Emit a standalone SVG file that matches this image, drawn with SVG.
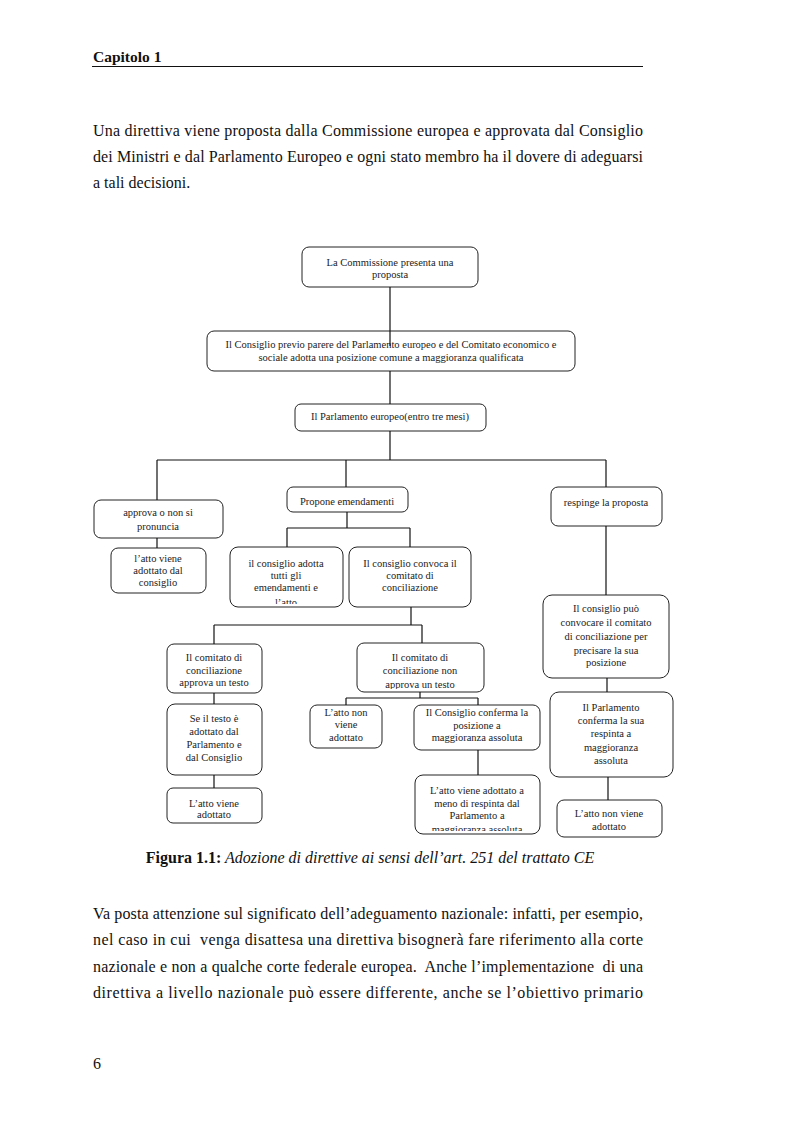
<svg xmlns="http://www.w3.org/2000/svg" width="793" height="1123" viewBox="0 0 793 1123">
<style>
.pg{font-family:"Liberation Serif","Times New Roman",serif;fill:#111}
.body{font-size:16px}
.bx{fill:#fff;stroke:#222;stroke-width:1}
.t{font-family:"Liberation Serif","Times New Roman",serif;font-size:10.5px;fill:#222;text-anchor:middle}
.c{stroke:#111;stroke-width:1.2;fill:none}
</style>
<defs>
<clipPath id="cl8"><rect x="230" y="547" width="113" height="57"/></clipPath>
<clipPath id="cl14"><rect x="357" y="643" width="127" height="46"/></clipPath>
<clipPath id="cl17"><rect x="415" y="775" width="125" height="56"/></clipPath>
</defs>
<rect width="793" height="1123" fill="#fff"/>

<g id="header">
<text class="pg" x="93" y="62" font-size="15.5" font-weight="bold">Capitolo 1</text>
<line x1="92" y1="66.5" x2="643" y2="66.5" stroke="#111" stroke-width="1"/>
</g>

<g id="intro" class="pg body">
<text x="93" y="136" textLength="550" lengthAdjust="spacing">Una direttiva viene proposta dalla Commissione europea e approvata dal Consiglio</text>
<text x="93" y="162" textLength="550" lengthAdjust="spacing">dei Ministri e dal Parlamento Europeo e ogni stato membro ha il dovere di adeguarsi</text>
<text x="93" y="188">a tali decisioni.</text>
</g>

<g id="n1"><rect class="bx" x="302" y="247" width="176" height="40" rx="7"/>
<text class="t" x="390" y="265.5">La Commissione presenta una</text><text class="t" x="390" y="277.5">proposta</text></g>

<g id="n2"><rect class="bx" x="207" y="331" width="368" height="40" rx="7"/>
<text class="t" x="391" y="347.5">Il Consiglio previo parere del Parlamento europeo e del Comitato economico e</text>
<text class="t" x="391" y="360.5">sociale adotta una posizione comune a maggioranza qualificata</text></g>

<g id="n3"><rect class="bx" x="295" y="404" width="191" height="27" rx="6"/>
<text class="t" x="390" y="419.5">Il Parlamento europeo(entro tre mesi)</text></g>

<g id="n4"><rect class="bx" x="94" y="500" width="129" height="38" rx="7"/>
<text class="t" x="158" y="516">approva o non si</text><text class="t" x="158" y="530">pronuncia</text></g>

<g id="n5"><rect class="bx" x="111" y="548" width="95" height="45" rx="7"/>
<text class="t" x="158" y="562">l’atto viene</text><text class="t" x="158" y="574">adottato dal</text><text class="t" x="158" y="586">consiglio</text></g>

<g id="n6"><rect class="bx" x="287" y="487" width="121" height="25" rx="6"/>
<text class="t" x="347" y="505">Propone emendamenti</text></g>

<g id="n7"><rect class="bx" x="551" y="487" width="111" height="39" rx="7"/>
<text class="t" x="606" y="505.5">respinge la proposta</text></g>

<g id="n8"><rect class="bx" x="230" y="547" width="113" height="60" rx="8"/>
<g clip-path="url(#cl8)">
<text class="t" x="286" y="566.5">il consiglio adotta</text><text class="t" x="286" y="578.5">tutti gli</text><text class="t" x="286" y="590.5">emendamenti e</text><text class="t" x="286" y="606">l’atto</text></g></g>

<g id="n9"><rect class="bx" x="349" y="547" width="122" height="60" rx="8"/>
<text class="t" x="410" y="566.5">Il consiglio convoca il</text><text class="t" x="410" y="578.5">comitato di</text><text class="t" x="410" y="590.5">conciliazione</text></g>

<g id="n10"><rect class="bx" x="543" y="595" width="126" height="83" rx="9"/>
<text class="t" x="606" y="612">Il consiglio può</text><text class="t" x="606" y="626">convocare il comitato</text><text class="t" x="606" y="640">di conciliazione per</text><text class="t" x="606" y="653.5">precisare la sua</text><text class="t" x="606" y="666">posizione</text></g>

<g id="n11"><rect class="bx" x="167" y="644" width="95" height="49" rx="7"/>
<text class="t" x="214" y="660.5">Il comitato di</text><text class="t" x="214" y="673.5">conciliazione</text><text class="t" x="214" y="686">approva un testo</text></g>

<g id="n12"><rect class="bx" x="167" y="704" width="95" height="71" rx="8"/>
<text class="t" x="214" y="722">Se il testo è</text><text class="t" x="214" y="735">adottato dal</text><text class="t" x="214" y="748">Parlamento e</text><text class="t" x="214" y="761">dal Consiglio</text></g>

<g id="n13"><rect class="bx" x="167" y="788" width="95" height="35" rx="6"/>
<text class="t" x="214" y="806.5">L’atto viene</text><text class="t" x="214" y="818">adottato</text></g>

<g id="n14"><rect class="bx" x="357" y="643" width="127" height="49" rx="7"/>
<g clip-path="url(#cl14)">
<text class="t" x="420" y="660.5">Il comitato di</text><text class="t" x="420" y="673.5">conciliazione non</text><text class="t" x="420" y="688">approva un testo</text></g></g>

<g id="n15"><rect class="bx" x="310" y="705" width="72" height="43" rx="7"/>
<text class="t" x="346" y="716">L’atto non</text><text class="t" x="346" y="728">viene</text><text class="t" x="346" y="741">adottato</text></g>

<g id="n16"><rect class="bx" x="414" y="705" width="126" height="45" rx="7"/>
<text class="t" x="477" y="716">Il Consiglio conferma la</text><text class="t" x="477" y="729">posizione a</text><text class="t" x="477" y="741">maggioranza assoluta</text></g>

<g id="n17"><rect class="bx" x="415" y="775" width="125" height="59" rx="8"/>
<g clip-path="url(#cl17)">
<text class="t" x="477" y="793.5">L’atto viene adottato a</text><text class="t" x="477" y="806.5">meno di respinta dal</text><text class="t" x="477" y="818.5">Parlamento a</text><text class="t" x="477" y="833">maggioranza assoluta</text></g></g>

<g id="n18"><rect class="bx" x="550" y="692" width="123" height="85" rx="9"/>
<text class="t" x="611" y="710.5">Il Parlamento</text><text class="t" x="611" y="724">conferma la sua</text><text class="t" x="611" y="737">respinta a</text><text class="t" x="611" y="750.5">maggioranza</text><text class="t" x="611" y="763.5">assoluta</text></g>

<g id="n19"><rect class="bx" x="557" y="800" width="105" height="37" rx="7"/>
<text class="t" x="609" y="816.5">L’atto non viene</text><text class="t" x="609" y="829.5">adottato</text></g>

<g id="connectors" class="c">
<path d="M390 287V346"/>
<path d="M390 371V404"/>
<path d="M390 431V460"/>
<path d="M157 460H606"/>
<path d="M157 460V500"/>
<path d="M346 460V487"/>
<path d="M606 460V487"/>
<path d="M157 538V548"/>
<path d="M347 512V528"/>
<path d="M287 528H410"/>
<path d="M287 528V547"/>
<path d="M410 528V547"/>
<path d="M411 607V625"/>
<path d="M214 625H422"/>
<path d="M214 625V644"/>
<path d="M422 625V643"/>
<path d="M420 692V698"/>
<path d="M346 698H478"/>
<path d="M346 698V705"/>
<path d="M478 698V705"/>
<path d="M478 750V775"/>
<path d="M214 693V704"/>
<path d="M214 775V788"/>
<path d="M606 526V595"/>
<path d="M607 678V692"/>
<path d="M608 777V800"/>
</g>

<g id="caption">
<text class="pg" x="370" y="863" font-size="16" text-anchor="middle"><tspan font-weight="bold">Figura 1.1:</tspan><tspan font-style="italic"> Adozione di direttive ai sensi dell’art. 251 del trattato CE</tspan></text>
</g>

<g id="para" class="pg body">
<text x="93" y="919" textLength="550" lengthAdjust="spacing">Va posta attenzione sul significato dell’adeguamento nazionale: infatti, per esempio,</text>
<text x="93" y="945" textLength="550" lengthAdjust="spacing" xml:space="preserve">nel caso in cui  venga disattesa una direttiva bisognerà fare riferimento alla corte</text>
<text x="93" y="972" textLength="550" lengthAdjust="spacing" xml:space="preserve">nazionale e non a qualche corte federale europea.  Anche l’implementazione  di una</text>
<text x="93" y="998" textLength="550" lengthAdjust="spacing">direttiva a livello nazionale può essere differente, anche se l’obiettivo primario</text>
</g>

<g id="pagenum"><text class="pg body" x="93" y="1069">6</text></g>
</svg>
